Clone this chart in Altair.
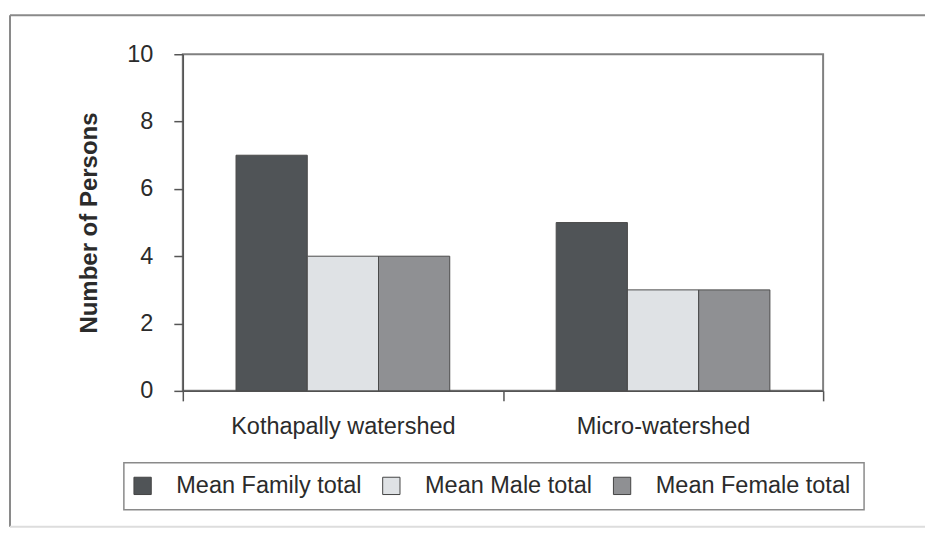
import altair as alt
import pandas as pd

groups = ["Kothapally watershed", "Micro-watershed"]
series = ["Mean Family total", "Mean Male total", "Mean Female total"]
family = [7, 5]
male = [4, 3]
female = [4, 3]
colors = ["#505457", "#dfe2e5", "#8f9093"]
y_ticks = [0, 2, 4, 6, 8, 10]

rows = []
for i, g in enumerate(groups):
    for s, vals in zip(series, [family, male, female]):
        rows.append({"group": g, "series": s, "value": vals[i]})
df = pd.DataFrame(rows)

FONT = "Liberation Sans"
TXT = "#2b2b2b"

bars = alt.Chart(df).mark_bar(stroke="#4a4a4a", strokeWidth=1).encode(
    x=alt.X("group:N", sort=groups,
            scale=alt.Scale(paddingInner=0, paddingOuter=0),
            axis=alt.Axis(title=None, tickBand="extent", labelAngle=0,
                          labelPadding=14, tickSize=10, labelLimit=400)),
    xOffset=alt.XOffset("series:N", sort=series,
                        scale=alt.Scale(paddingInner=0, paddingOuter=0.747)),
    y=alt.Y("value:Q", scale=alt.Scale(domain=[0, 10], nice=False),
            axis=alt.Axis(values=y_ticks, title="Number of Persons", grid=False,
                          labelPadding=21, titlePadding=25, tickSize=9,
                          titleFontSize=24, titleFontWeight="bold",
                          titleColor=TXT, titleFont=FONT)),
    color=alt.Color("series:N", sort=series,
                    scale=alt.Scale(domain=series, range=colors),
                    legend=alt.Legend(title=None, orient="none", legendX=-52, legendY=420,
                                      direction="horizontal", symbolType="square",
                                      symbolSize=300, symbolStrokeColor="#444",
                                      symbolStrokeWidth=1, labelFontSize=23.5,
                                      labelFont=FONT, labelColor=TXT, labelOffset=22,
                                      columnPadding=18, padding=0,
                                      labelLimit=400)),
)

one = pd.DataFrame({"k": [0]})
frame_top = alt.Chart(one).mark_rule(color="#8a8a8a", strokeWidth=2).encode(
    x=alt.value(-173), x2=alt.value(743), y=alt.value(-39))
frame_left = alt.Chart(one).mark_rule(color="#8a8a8a", strokeWidth=2).encode(
    x=alt.value(-173), y=alt.value(-39), y2=alt.value(473))
frame_bottom = alt.Chart(one).mark_rule(color="#dddddd", strokeWidth=2).encode(
    x=alt.value(-173), x2=alt.value(743), y=alt.value(473))
legend_box = alt.Chart(one).mark_rect(fill=None, stroke="#8a8a8a", strokeWidth=1.5).encode(
    x=alt.value(-59), x2=alt.value(682), y=alt.value(409), y2=alt.value(456))

chart = alt.layer(frame_top, frame_left, frame_bottom, legend_box, bars).properties(
    width=641, height=337,
    padding={"left": 1, "top": 6, "right": 2, "bottom": 2},
).configure_view(
    stroke="#808080", strokeWidth=2
).configure_axis(
    labelFont=FONT, labelFontSize=23.5, labelColor=TXT,
    domainColor="#555", domainWidth=1.5, tickColor="#555", tickWidth=1.5,
)

chart.save("out.html", embed_options={"renderer": "svg", "actions": False})
